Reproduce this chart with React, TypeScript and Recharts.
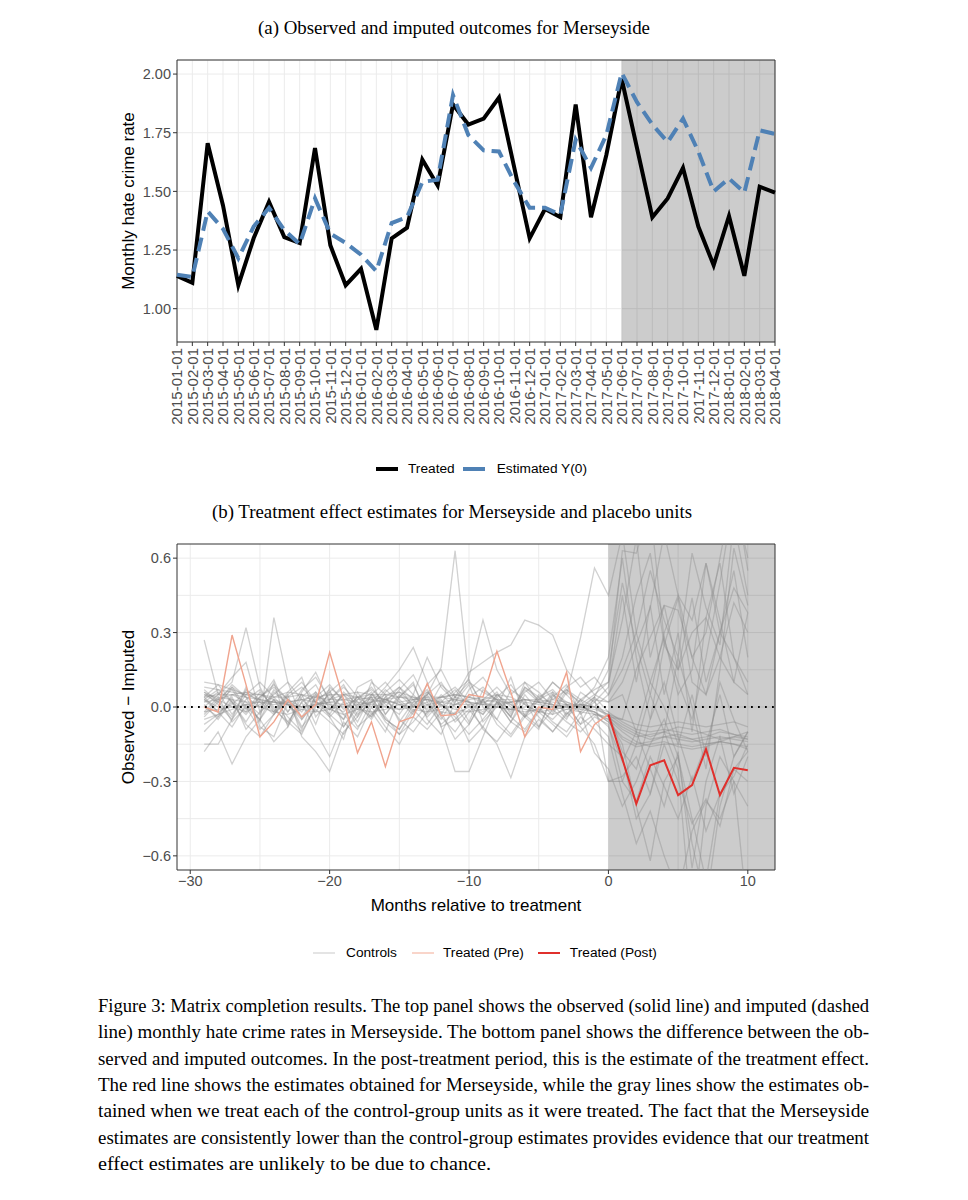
import React from "react";
import {
  CartesianGrid,
  Line,
  LineChart,
  ReferenceArea,
  ReferenceLine,
  XAxis,
  YAxis,
} from "recharts";

// ---- panel (a): observed vs imputed monthly rate ----
const months = [
  "2015-01-01", "2015-02-01", "2015-03-01", "2015-04-01", "2015-05-01", "2015-06-01",
  "2015-07-01", "2015-08-01", "2015-09-01", "2015-10-01", "2015-11-01", "2015-12-01",
  "2016-01-01", "2016-02-01", "2016-03-01", "2016-04-01", "2016-05-01", "2016-06-01",
  "2016-07-01", "2016-08-01", "2016-09-01", "2016-10-01", "2016-11-01", "2016-12-01",
  "2017-01-01", "2017-02-01", "2017-03-01", "2017-04-01", "2017-05-01", "2017-06-01",
  "2017-07-01", "2017-08-01", "2017-09-01", "2017-10-01", "2017-11-01", "2017-12-01",
  "2018-01-01", "2018-02-01", "2018-03-01", "2018-04-01",
];

const treated = [
  1.14, 1.11, 1.705, 1.44, 1.1, 1.3, 1.455, 1.305, 1.28, 1.685,
  1.27, 1.1, 1.17, 0.91, 1.3, 1.345, 1.635, 1.525, 1.87, 1.785,
  1.81, 1.9, 1.6, 1.3, 1.425, 1.39, 1.87, 1.39, 1.655, 1.98,
  1.685, 1.39, 1.47, 1.6, 1.35, 1.185, 1.395, 1.14, 1.52, 1.495,
];

const estimated = [
  1.145, 1.135, 1.415, 1.34, 1.215, 1.35, 1.43, 1.335, 1.275, 1.47,
  1.32, 1.28, 1.23, 1.16, 1.365, 1.39, 1.54, 1.55, 1.91, 1.74,
  1.675, 1.67, 1.54, 1.43, 1.43, 1.4, 1.72, 1.6, 1.74, 2.005,
  1.88, 1.785, 1.71, 1.81, 1.67, 1.5, 1.555, 1.495, 1.76, 1.745,
];

const treatmentMonth = "2017-06-01";
const rateTicks = [1.0, 1.25, 1.5, 1.75, 2.0];

// ---- panel (b): observed - imputed, relative months ----
const relMonths = [
  -29, -28, -27, -26, -25, -24, -23, -22, -21, -20, -19, -18, -17, -16, -15,
  -14, -13, -12, -11, -10, -9, -8, -7, -6, -5, -4, -3, -2, -1, 0,
  1, 2, 3, 4, 5, 6, 7, 8, 9, 10,
];

// months -29..0
const treatedPre = [
  0.0, -0.02, 0.29, 0.09, -0.12, -0.06, 0.03, -0.04, 0.01, 0.22,
  0.03, -0.185, -0.06, -0.24, -0.06, -0.04, 0.095, -0.035, -0.03, 0.05,
  0.04, 0.225, 0.06, -0.12, 0.0, -0.01, 0.14, -0.18, -0.07, -0.03,
];

// months 0..10
const treatedPost = [-0.03, -0.21, -0.39, -0.235, -0.215, -0.355, -0.315, -0.17, -0.355, -0.245, -0.255];

// placebo estimates, one row per control unit, months -29..10
const controlUnits = [
  [0.08, 0.07, 0.06, 0.05, 0.05, 0.04, 0.04, 0.05, 0.04, 0.03, 0.03, 0.04, 0.05, 0.05, 0.04, 0.03, 0.03, 0.04, 0.05, 0.04, 0.03, 0.02, 0.02, 0.03, 0.03, 0.02, 0.01, 0.01, 0.0, -0.02, -0.06, -0.09, -0.1, -0.09, -0.1, -0.11, -0.1, -0.09, -0.11, -0.12],
  [0.05, 0.04, 0.03, 0.02, 0.02, 0.01, 0.02, 0.03, 0.02, 0.01, 0.0, 0.01, 0.02, 0.03, 0.04, 0.04, 0.03, 0.02, 0.01, 0.01, 0.02, 0.03, 0.03, 0.02, 0.01, 0.0, -0.01, -0.02, -0.03, -0.04, -0.08, -0.11, -0.13, -0.12, -0.13, -0.14, -0.13, -0.12, -0.13, -0.14],
  [0.1, 0.09, 0.07, 0.05, 0.03, 0.02, 0.01, 0.0, 0.01, 0.02, 0.03, 0.02, 0.01, 0.0, -0.01, 0.0, 0.01, 0.02, 0.03, 0.02, 0.01, 0.0, -0.01, -0.02, -0.01, 0.0, 0.01, 0.0, -0.02, -0.05, -0.1, -0.14, -0.16, -0.15, -0.15, -0.16, -0.15, -0.14, -0.15, -0.16],
  [0.06, 0.03, 0.0, -0.02, 0.01, 0.04, 0.06, 0.05, 0.02, -0.01, -0.03, -0.01, 0.02, 0.05, 0.06, 0.04, 0.01, -0.02, -0.03, 0.0, 0.03, 0.05, 0.04, 0.01, -0.02, -0.03, -0.01, 0.01, 0.0, -0.03, -0.07, -0.1, -0.12, -0.1, -0.08, -0.09, -0.11, -0.13, -0.12, -0.1],
  [-0.02, -0.01, 0.0, 0.01, 0.0, -0.02, -0.03, -0.01, 0.01, 0.02, 0.01, -0.01, -0.02, -0.01, 0.01, 0.02, 0.03, 0.01, -0.01, -0.02, -0.01, 0.0, 0.02, 0.03, 0.02, 0.01, 0.0, -0.01, -0.02, -0.06, -0.12, -0.15, -0.14, -0.12, -0.11, -0.13, -0.15, -0.14, -0.12, -0.13],
  [-0.15, -0.15, -0.05, 0.08, -0.08, -0.12, 0.02, -0.09, 0.05, -0.04, -0.13, 0.06, -0.02, -0.1, 0.04, 0.1, -0.05, -0.11, 0.02, 0.09, -0.06, 0.0, 0.12, -0.04, -0.09, 0.05, 0.01, -0.07, 0.04, -0.02, -0.18, -0.25, -0.05, 0.1, -0.12, -0.3, -0.15, 0.05, -0.2, -0.1],
  [0.27, 0.05, 0.12, 0.18, -0.02, 0.1, -0.08, 0.06, 0.14, 0.02, -0.05, 0.08, 0.11, -0.03, 0.05, 0.0, 0.09, 0.15, 0.04, -0.06, 0.07, 0.03, -0.04, 0.1, 0.06, 0.0, 0.08, 0.12, 0.05, 0.1, 0.35, 0.68, 0.2, 0.41, 0.15, 0.44, 0.1, 0.3, 0.48, 0.38],
  [-0.18, -0.1, -0.23, -0.12, -0.05, -0.14, -0.08, 0.02, -0.1, -0.2, -0.06, -0.12, 0.0, -0.08, -0.15, -0.04, -0.09, -0.02, -0.13, -0.07, 0.03, -0.05, -0.11, -0.03, -0.08, -0.01, -0.06, -0.1, -0.04, -0.07, -0.3, -0.38, -0.2, -0.32, -0.45, -0.28, -0.5, -0.35, -0.25, -0.3],
  [0.0, 0.05, 0.1, 0.32, 0.08, -0.02, 0.06, 0.12, -0.04, 0.03, 0.09, -0.01, 0.05, 0.0, 0.07, 0.13, 0.02, -0.05, 0.04, 0.1, 0.01, 0.06, -0.03, 0.08, 0.04, -0.02, 0.07, 0.03, 0.0, 0.05, 0.15, 0.3, 0.55, 0.35, 0.2, 0.62, 0.4, 0.25, 0.75, 0.45],
  [0.03, 0.0, 0.08, 0.04, -0.06, 0.36, 0.1, -0.05, 0.02, 0.07, -0.08, 0.01, 0.06, -0.03, 0.04, 0.09, -0.02, 0.05, 0.0, -0.07, 0.03, 0.08, 0.02, -0.04, 0.05, 0.01, -0.05, 0.06, 0.02, 0.08, 0.45, 0.1, 0.41, 0.05, 0.3, -0.1, 0.36, 0.58, 0.2, 0.05],
  [-0.02, 0.04, -0.06, 0.0, -0.09, -0.03, 0.05, -0.12, -0.18, -0.26, -0.1, -0.04, 0.03, -0.06, -0.11, -0.02, 0.04, -0.08, -0.05, 0.01, -0.09, -0.14, -0.06, 0.02, -0.04, -0.1, -0.03, 0.03, -0.06, -0.12, -0.35, -0.55, -0.42, -0.6, -0.75, -0.5, -0.38, -0.45, -0.3, -0.4],
  [0.05, 0.02, -0.04, 0.07, 0.03, -0.02, 0.05, 0.1, 0.02, -0.03, 0.06, 0.01, -0.05, 0.04, 0.08, 0.0, 0.05, 0.16, 0.63, 0.1, 0.06, 0.03, -0.04, 0.07, 0.02, 0.1, 0.05, -0.01, 0.04, 0.15, 0.5, 0.25, 0.4, 0.7, 0.45, 0.35, 0.58, 0.3, 0.55, 0.2],
  [0.01, -0.05, 0.03, -0.02, 0.06, 0.0, -0.07, 0.04, 0.09, -0.01, 0.05, -0.03, 0.02, 0.08, 0.15, 0.24, 0.1, -0.08, -0.26, -0.26, -0.12, 0.02, -0.06, 0.05, -0.02, 0.06, -0.04, 0.01, -0.03, -0.05, -0.15, -0.4, -0.62, -0.3, -0.2, -0.45, -0.7, -0.35, -0.28, -0.15],
  [-0.04, 0.02, 0.07, -0.01, 0.04, 0.09, 0.03, -0.02, 0.06, 0.0, -0.05, 0.03, 0.08, 0.01, -0.03, 0.05, 0.2, 0.08, 0.02, 0.12, 0.35, 0.15, 0.05, 0.1, 0.02, -0.03, 0.06, 0.02, 0.08, 0.2, 0.6, 0.2, -0.05, 0.25, 0.44, 0.1, 0.05, 0.2, 0.1, 0.38],
  [0.04, -0.02, -0.08, 0.01, -0.05, 0.03, -0.04, -0.1, 0.0, 0.05, -0.03, -0.09, 0.02, -0.04, -0.11, -0.06, 0.01, -0.07, -0.02, -0.14, -0.08, -0.15, -0.285, -0.12, -0.05, -0.1, -0.02, -0.08, -0.15, -0.3, -0.28, -0.2, -0.35, -0.15, -0.3, -0.47, -0.37, -0.48, -0.25, -0.18],
  [0.02, 0.06, -0.03, 0.05, 0.1, 0.04, -0.02, 0.07, 0.12, 0.03, 0.08, 0.02, -0.04, 0.06, 0.11, 0.05, -0.01, 0.09, 0.04, 0.14, 0.18, 0.22, 0.25, 0.35, 0.33, 0.29, 0.15, 0.08, 0.12, 0.05, 0.2, 0.45, 0.62, 0.25, 0.15, 0.3, 0.36, 0.2, 0.42, 0.3],
  [-0.03, 0.03, 0.08, 0.0, -0.05, 0.06, 0.01, -0.04, 0.04, 0.09, 0.02, -0.06, 0.05, 0.1, 0.03, -0.02, 0.06, 0.01, -0.03, 0.07, 0.12, 0.04, -0.02, 0.08, 0.03, 0.1, 0.05, 0.28, 0.56, 0.45, 0.7, 0.3, 0.1, 0.28, 0.05, 0.15, 0.58, 0.35, 0.1, 0.05],
  [0.06, 0.01, -0.05, 0.03, 0.07, -0.01, -0.06, 0.02, 0.06, -0.03, -0.08, 0.0, 0.04, -0.05, -0.09, 0.01, 0.05, -0.04, -0.1, -0.02, 0.03, -0.07, -0.12, -0.04, 0.0, -0.06, -0.1, -0.02, -0.185, -0.25, -0.4, -0.3, -0.15, -0.05, -0.2, -0.55, -0.8, -0.4, -0.2, -0.1],
  [0.03, 0.07, 0.02, -0.03, 0.04, 0.08, 0.03, 0.0, 0.05, 0.01, -0.02, 0.04, 0.07, 0.02, -0.01, 0.03, 0.06, 0.0, 0.04, 0.02, -0.03, 0.05, 0.01, -0.04, 0.03, 0.06, 0.02, 0.0, 0.04, -0.3, -0.3, -0.15, 0.05, -0.1, 0.2, 0.0, -0.25, 0.15, 0.64, 0.41],
  [0.04, 0.09, 0.02, -0.06, 0.03, 0.11, -0.02, 0.05, -0.07, 0.08, 0.03, -0.04, 0.1, 0.05, -0.06, 0.02, 0.07, -0.03, 0.06, 0.11, 0.0, -0.05, 0.07, 0.03, -0.08, 0.04, 0.09, -0.03, 0.02, -0.04, -0.05, 0.15, 0.28, 0.41, 0.39, 0.2, 0.05, 0.3, 0.2, 0.1],
  [-0.07, -0.03, 0.04, -0.09, -0.02, 0.03, -0.06, -0.11, 0.01, -0.04, 0.02, -0.08, -0.03, 0.04, -0.05, -0.1, -0.02, 0.03, -0.06, -0.01, -0.08, 0.02, -0.04, -0.09, -0.01, -0.05, 0.01, -0.07, -0.03, -0.08, -0.22, -0.1, -0.25, -0.4, -0.18, -0.65, -0.3, -0.12, -0.35, -0.2],
  [0.04, 0.05, 0.05, 0.04, 0.03, 0.02, 0.02, 0.03, 0.04, 0.05, 0.05, 0.04, 0.03, 0.02, 0.02, 0.03, 0.04, 0.04, 0.03, 0.02, 0.01, 0.01, 0.02, 0.03, 0.02, 0.01, 0.0, 0.0, -0.01, -0.03, -0.05, -0.07, -0.08, -0.07, -0.06, -0.07, -0.08, -0.07, -0.06, -0.08],
  [0.0, -0.04, 0.05, 0.02, -0.03, 0.07, 0.01, -0.05, 0.03, 0.06, -0.01, 0.04, -0.03, 0.02, 0.08, 0.03, -0.04, 0.02, 0.07, 0.0, -0.03, 0.04, 0.09, 0.01, -0.02, 0.05, -0.03, 0.03, 0.07, 0.1, 0.63, 0.62, 0.8, 0.27, 0.1, -0.05, 0.2, 0.5, 0.85, 0.6],
  [-0.1, -0.04, 0.02, -0.07, -0.12, -0.03, 0.03, -0.08, -0.01, -0.06, -0.11, -0.02, 0.04, -0.05, -0.09, -0.01, -0.07, 0.01, -0.04, -0.11, -0.05, 0.02, -0.06, -0.1, -0.02, -0.07, -0.12, -0.04, -0.09, -0.15, -0.2, -0.45, -0.35, -0.1, -0.25, -0.9, -0.4, -0.2, -0.3, -0.85],
  [0.07, 0.02, 0.09, 0.04, 0.0, 0.05, 0.1, 0.03, -0.02, 0.06, 0.11, 0.04, 0.0, 0.07, 0.02, -0.03, 0.05, 0.1, 0.01, 0.04, 0.08, 0.02, -0.01, 0.06, 0.1, 0.03, 0.07, 0.01, 0.05, 0.02, 0.05, -0.1, 0.1, 0.0, -0.15, 0.05, -0.2, 0.1, -0.05, -0.18],
  [-0.05, -0.03, -0.01, 0.01, 0.02, 0.02, 0.01, -0.01, -0.02, -0.01, 0.01, 0.03, 0.04, 0.03, 0.01, -0.01, -0.02, -0.01, 0.01, 0.03, 0.04, 0.03, 0.01, -0.01, -0.02, -0.01, 0.0, 0.01, 0.0, -0.04, -0.09, -0.12, -0.11, -0.1, -0.12, -0.13, -0.12, -0.1, -0.11, -0.13],
  [0.02, 0.03, 0.05, 0.06, 0.05, 0.03, 0.01, 0.0, 0.01, 0.03, 0.05, 0.06, 0.05, 0.03, 0.01, 0.0, 0.02, 0.04, 0.05, 0.04, 0.02, 0.0, -0.01, 0.0, 0.02, 0.03, 0.02, 0.0, -0.02, -0.06, -0.13, -0.16, -0.15, -0.14, -0.16, -0.17, -0.16, -0.14, -0.15, -0.17],
  [0.03, -0.02, 0.01, 0.06, 0.02, -0.03, 0.04, 0.08, 0.02, -0.01, 0.05, 0.0, -0.04, 0.03, 0.06, 0.01, -0.03, 0.04, 0.08, 0.02, -0.02, 0.05, 0.0, -0.03, 0.04, 0.07, 0.01, -0.02, 0.03, 0.02, 0.1, 0.25, 0.05, 0.3, 0.45, 0.2, 0.3, 0.6, 0.9, 0.55],
];

const effectTicks = [-0.6, -0.3, 0, 0.3, 0.6];
const effectGridY = [-0.6, -0.45, -0.3, -0.15, 0, 0.15, 0.3, 0.45, 0.6];
const monthTicks = [-30, -20, -10, 0, 10];
const monthGridX = [-30, -25, -20, -15, -10, -5, 0, 5, 10];

const captionLines = [
  "Figure 3: Matrix completion results. The top panel shows the observed (solid line) and imputed (dashed",
  "line) monthly hate crime rates in Merseyside. The bottom panel shows the difference between the ob-",
  "served and imputed outcomes. In the post-treatment period, this is the estimate of the treatment effect.",
  "The red line shows the estimates obtained for Merseyside, while the gray lines show the estimates ob-",
  "tained when we treat each of the control-group units as it were treated. The fact that the Merseyside",
  "estimates are consistently lower than the control-group estimates provides evidence that our treatment",
  "effect estimates are unlikely to be due to chance.",
];

const SANS = "'Liberation Sans', Arial, Helvetica, sans-serif";
const SERIF = "'Liberation Serif', 'Times New Roman', serif";
const tickStyle = { fill: "#4d4d4d", fontSize: 14.5, fontFamily: SANS };

const rateData = months.map((date, i) => ({ date, treated: treated[i], estimated: estimated[i] }));

const effectData = relMonths.map((m, i) => {
  const row: Record<string, number | null> = {
    m,
    pre: i < treatedPre.length ? treatedPre[i] : null,
    post: m >= 0 ? treatedPost[m] : null,
  };
  controlUnits.forEach((series, k) => {
    row[`c${k}`] = series[i];
  });
  return row;
});

const signed = (v: number, digits: number) =>
  (v < 0 ? "\u2212" : "") + Math.abs(v).toFixed(digits);

function DateTick({ x, y, payload }: any) {
  return (
    <text
      x={x}
      y={y}
      transform={`rotate(-90 ${x} ${y})`}
      textAnchor="end"
      dy="0.35em"
      fill="#4d4d4d"
      fontSize={15}
      fontFamily={SANS}
    >
      {payload.value}
    </text>
  );
}

function LegendKey({ color, width = 4 }: { color: string; width?: number }) {
  return (
    <svg width={22} height={12} style={{ display: "block" }}>
      <line x1={0} y1={6} x2={22} y2={6} stroke={color} strokeWidth={width} />
    </svg>
  );
}

const legendRow: React.CSSProperties = {
  position: "absolute",
  display: "flex",
  alignItems: "center",
  fontFamily: SANS,
  fontSize: 13.7,
  color: "#000",
  whiteSpace: "nowrap",
};

export default function App() {
  return (
    <div
      style={{
        position: "absolute",
        left: 0,
        top: 0,
        width: 968,
        height: 1200,
        background: "#fff",
        overflow: "hidden",
      }}
    >
      <svg width={968} height={1200} style={{ position: "absolute", left: 0, top: 0 }}>
        <text x={258} y={34} fontFamily={SERIF} fontSize={18} textLength={392} lengthAdjust="spacingAndGlyphs">
          (a) Observed and imputed outcomes for Merseyside
        </text>
        <text x={212} y={518} fontFamily={SERIF} fontSize={18} textLength={480} lengthAdjust="spacingAndGlyphs">
          (b) Treatment effect estimates for Merseyside and placebo units
        </text>
        {captionLines.map((line, i) => (
          <text
            key={i}
            x={98}
            y={1012 + i * 26.3}
            fontFamily={SERIF}
            fontSize={19.5}
            textLength={i === captionLines.length - 1 ? 393 : 771}
            lengthAdjust="spacingAndGlyphs"
          >
            {line}
          </text>
        ))}
      </svg>

      {/* panel (a) */}
      <div style={{ position: "absolute", left: 0, top: 0 }}>
        <LineChart width={968} height={440} data={rateData} margin={{ top: 60, right: 193, bottom: 0, left: 0 }}>
          <CartesianGrid stroke="#ebebeb" strokeWidth={1} />
          <ReferenceArea x1={treatmentMonth} x2={months[months.length - 1]} fill="#000" fillOpacity={0.2} stroke="none" />
          <XAxis
            dataKey="date"
            interval={0}
            height={98}
            tick={<DateTick />}
            tickSize={4}
            tickLine={{ stroke: "#333" }}
            axisLine={false}
          />
          <YAxis
            type="number"
            domain={[0.858, 2.06]}
            allowDataOverflow
            ticks={rateTicks}
            width={177}
            tickFormatter={(v: number) => v.toFixed(2)}
            tick={tickStyle}
            tickSize={4}
            tickLine={{ stroke: "#333" }}
            axisLine={false}
            label={{
              value: "Monthly hate crime rate",
              angle: -90,
              position: "insideLeft",
              offset: 128,
              style: { textAnchor: "middle", fill: "#000", fontSize: 17, fontFamily: SANS },
            }}
          />
          <Line
            dataKey="treated"
            stroke="#000"
            strokeWidth={4}
            dot={false}
            isAnimationActive={false}
          />
          <Line
            dataKey="estimated"
            stroke="#4f81b5"
            strokeWidth={4}
            strokeDasharray="14 7"
            dot={false}
            isAnimationActive={false}
          />
          <ReferenceArea
            x1={months[0]}
            x2={months[months.length - 1]}
            y1={0.858}
            y2={2.06}
            fill="none"
            stroke="#333"
            strokeWidth={1}
            ifOverflow="visible"
          />
        </LineChart>
      </div>

      <div style={{ ...legendRow, left: 376, top: 461 }}>
        <LegendKey color="#000" />
        <span style={{ marginLeft: 10 }}>Treated</span>
        <span style={{ marginLeft: 8 }}>
          <LegendKey color="#4f81b5" />
        </span>
        <span style={{ marginLeft: 12 }}>Estimated Y(0)</span>
      </div>

      {/* panel (b) */}
      <div style={{ position: "absolute", left: 0, top: 500 }}>
        <LineChart width={968} height={420} data={effectData} margin={{ top: 44, right: 193, bottom: 0, left: 0 }}>
          <CartesianGrid stroke="#ebebeb" strokeWidth={1} verticalValues={monthGridX} horizontalValues={effectGridY} />
          <ReferenceArea x1={0} x2={11.95} fill="#000" fillOpacity={0.2} stroke="none" ifOverflow="hidden" />
          <XAxis
            dataKey="m"
            type="number"
            domain={[-30.95, 11.95]}
            allowDataOverflow
            ticks={monthTicks}
            height={50}
            tickFormatter={(v: number) => signed(v, 0)}
            tick={tickStyle}
            tickSize={4}
            tickLine={{ stroke: "#333" }}
            axisLine={false}
            label={{
              value: "Months relative to treatment",
              position: "insideBottom",
              offset: 9,
              style: { fill: "#000", fontSize: 17, fontFamily: SANS },
            }}
          />
          <YAxis
            type="number"
            domain={[-0.657, 0.657]}
            allowDataOverflow
            ticks={effectTicks}
            width={177}
            tickFormatter={(v: number) => signed(v, 1)}
            tick={tickStyle}
            tickSize={4}
            tickLine={{ stroke: "#333" }}
            axisLine={false}
            label={{
              value: "Observed \u2212 Imputed",
              angle: -90,
              position: "insideLeft",
              offset: 128,
              style: { textAnchor: "middle", fill: "#000", fontSize: 17, fontFamily: SANS },
            }}
          />
          {controlUnits.map((_, k) => (
            <Line
              key={k}
              dataKey={`c${k}`}
              stroke="#8c8c8c"
              strokeOpacity={0.4}
              strokeWidth={1.3}
              dot={false}
              isAnimationActive={false}
            />
          ))}
          <Line
            dataKey="pre"
            stroke="#f0a48e"
            strokeWidth={1.4}
            dot={false}
            isAnimationActive={false}
          />
          <Line
            dataKey="post"
            stroke="#e0302c"
            strokeWidth={2}
            dot={false}
            isAnimationActive={false}
          />
          <ReferenceLine y={0} stroke="#000" strokeWidth={1.8} strokeDasharray="1.8 5.2" />
          <ReferenceArea
            x1={-30.95}
            x2={11.95}
            y1={-0.657}
            y2={0.657}
            fill="none"
            stroke="#333"
            strokeWidth={1}
            ifOverflow="visible"
          />
        </LineChart>
      </div>

      <div style={{ ...legendRow, left: 313, top: 945 }}>
        <LegendKey color="#d9d9d9" width={1.4} />
        <span style={{ marginLeft: 11 }}>Controls</span>
        <span style={{ marginLeft: 15 }}>
          <LegendKey color="#f7c3b4" width={1.4} />
        </span>
        <span style={{ marginLeft: 9 }}>Treated (Pre)</span>
        <span style={{ marginLeft: 14 }}>
          <LegendKey color="#e0302c" width={2} />
        </span>
        <span style={{ marginLeft: 10 }}>Treated (Post)</span>
      </div>
    </div>
  );
}
